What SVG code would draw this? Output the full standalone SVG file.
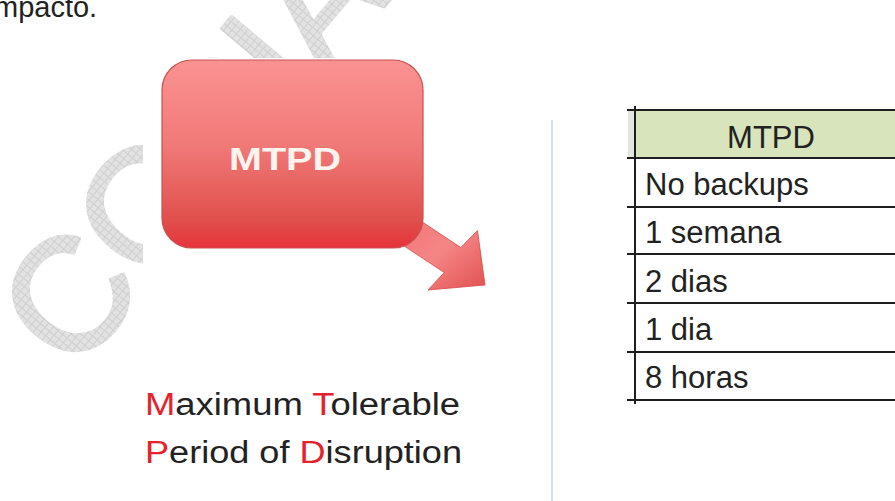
<svg xmlns="http://www.w3.org/2000/svg" width="895" height="501" viewBox="0 0 895 501">
<defs>
<style>
.body{font-family:"Liberation Sans",Arial,sans-serif;fill:#222}
.cell{font-family:"Liberation Sans",Arial,sans-serif;font-size:31px;fill:#222}
.red{fill:#e5222c}
.grid{stroke:#1e1e1e;stroke-width:2}
</style>
<pattern id="hatch" width="6" height="6" patternUnits="userSpaceOnUse">
<rect width="6" height="6" fill="#e2e2e2"/>
<path d="M0 0.5H6M0.5 0V6" stroke="#cfcfcf" stroke-width="1"/>
</pattern>
<linearGradient id="boxg" x1="0" y1="0" x2="0" y2="1">
<stop offset="0" stop-color="#fb9292"/>
<stop offset="0.45" stop-color="#f07a78"/>
<stop offset="0.85" stop-color="#e0504c"/>
<stop offset="1" stop-color="#e6333a"/>
</linearGradient>
<linearGradient id="arrg" x1="0" y1="0" x2="1" y2="1">
<stop offset="0" stop-color="#ef6e6e"/>
<stop offset="0.6" stop-color="#f58585"/>
<stop offset="1" stop-color="#e25050"/>
</linearGradient>
</defs>
<rect width="895" height="501" fill="#fff"/>
<text class="body" x="-6" y="17" font-size="29">mpacto.</text>
<g id="watermark" transform="translate(74,376) rotate(-50)">
<text x="0" y="0" font-family="Liberation Sans, Arial, sans-serif" font-size="160" fill="url(#hatch)" stroke="url(#hatch)" stroke-width="4" stroke-linejoin="round">COPIA</text>
</g>
<rect x="143" y="58" width="752" height="443" fill="#fff"/>
<g id="arrow">
<polygon points="386,198 460.8,247.5 477.5,230.5 485,285 428,290 444.2,272.5 369.5,223" fill="url(#arrg)" stroke="#d84a4a" stroke-width="0.8"/>
</g>
<g id="mtpd-box">
<rect x="162" y="60" width="261" height="188" rx="30" fill="url(#boxg)" stroke="#c9514f" stroke-width="1.2"/>
<text x="285" y="170" font-family="Liberation Sans, Arial, sans-serif" font-weight="bold" font-size="31" fill="#fff4ee" text-anchor="middle" textLength="112" lengthAdjust="spacingAndGlyphs">MTPD</text>
</g>
<g id="caption">
<text class="body" x="145" y="415" font-size="31" textLength="315" lengthAdjust="spacingAndGlyphs"><tspan class="red">M</tspan>aximum <tspan class="red">T</tspan>olerable</text>
<text class="body" x="145" y="463" font-size="31" textLength="317" lengthAdjust="spacingAndGlyphs"><tspan class="red">P</tspan>eriod of <tspan class="red">D</tspan>isruption</text>
</g>
<g id="separator">
<line x1="552" y1="120" x2="552" y2="501" stroke="#cdd6e0" stroke-width="1.6"/>
</g>
<g id="table">
<rect x="628" y="111" width="7" height="46" fill="#e2e6dc"/>
<rect x="636" y="111" width="259" height="46" fill="#d8e4bc"/>
<g class="grid">
<line x1="627" y1="110" x2="895" y2="110"/>
<line x1="627" y1="158" x2="895" y2="158"/>
<line x1="627" y1="207" x2="895" y2="207"/>
<line x1="627" y1="254" x2="895" y2="254"/>
<line x1="627" y1="303" x2="895" y2="303"/>
<line x1="627" y1="352" x2="895" y2="352"/>
<line x1="627" y1="400" x2="895" y2="400"/>
<line x1="635" y1="106" x2="635" y2="404"/>
</g>
<text class="cell" x="771" y="148" text-anchor="middle">MTPD</text>
<text class="cell" x="645" y="195">No backups</text>
<text class="cell" x="645" y="243">1 semana</text>
<text class="cell" x="645" y="292">2 dias</text>
<text class="cell" x="645" y="340">1 dia</text>
<text class="cell" x="645" y="388">8 horas</text>
</g>
</svg>
